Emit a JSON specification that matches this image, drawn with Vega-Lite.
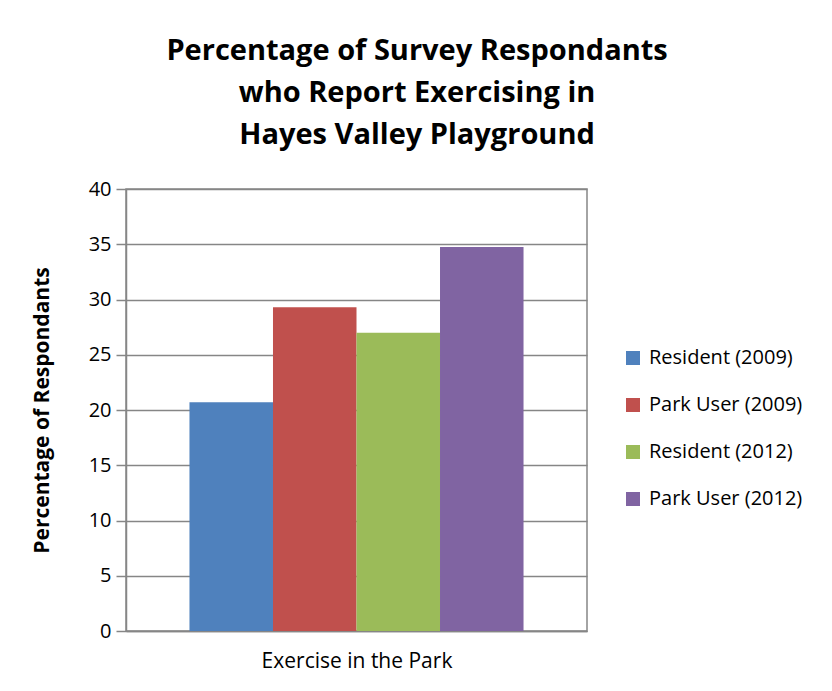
{
  "$schema": "https://vega.github.io/schema/vega-lite/v6.json",
  "width": 461,
  "height": 442,
  "autosize": {"type": "none"},
  "padding": {"left": 126, "top": 189, "right": 245, "bottom": 60},
  "background": "white",
  "title": {
    "text": ["Percentage of Survey Respondants", "who Report Exercising in", "Hayes Valley Playground"],
    "fontSize": 29,
    "font": "Open Sans",
    "fontWeight": "bold",
    "color": "#000000",
    "anchor": "middle",
    "frame": "bounds",
    "lineHeight": 42,
    "offset": 29
  },
  "data": {
    "values": [
      {"series": "Resident (2009)", "value": 20.7},
      {"series": "Park User (2009)", "value": 29.3},
      {"series": "Resident (2012)", "value": 27.0},
      {"series": "Park User (2012)", "value": 34.75}
    ]
  },
  "mark": {"type": "bar"},
  "encoding": {
    "x": {
      "field": "series",
      "type": "nominal",
      "sort": null,
      "scale": {"paddingInner": 0, "paddingOuter": 0.76},
      "axis": {
        "labels": false,
        "ticks": false,
        "title": "Exercise in the Park",
        "titleFontWeight": "normal",
        "titleFontSize": 21,
        "titleFont": "Open Sans",
        "titleColor": "#000000",
        "titlePadding": 19,
        "domainColor": "#868686",
        "domainWidth": 1.5
      }
    },
    "y": {
      "field": "value",
      "type": "quantitative",
      "scale": {"domain": [0, 40]},
      "axis": {
        "values": [0, 5, 10, 15, 20, 25, 30, 35, 40],
        "title": "Percentage of Respondants",
        "titleFont": "Open Sans",
        "titleFontSize": 21,
        "titleFontWeight": "bold",
        "titleColor": "#000000",
        "titlePadding": 36,
        "labelFont": "Open Sans",
        "labelFontSize": 20,
        "labelColor": "#000000",
        "labelPadding": 5,
        "tickSize": 10,
        "tickColor": "#868686",
        "tickWidth": 1.5,
        "domainColor": "#868686",
        "domainWidth": 1.5,
        "gridColor": "#868686",
        "gridWidth": 1.5
      }
    },
    "color": {
      "field": "series",
      "type": "nominal",
      "sort": null,
      "scale": {
        "domain": ["Resident (2009)", "Park User (2009)", "Resident (2012)", "Park User (2012)"],
        "range": ["#4F81BD", "#C0504D", "#9BBB59", "#8064A2"]
      },
      "legend": {
        "title": null,
        "orient": "none",
        "legendX": 497,
        "legendY": 159,
        "symbolType": "square",
        "symbolSize": 196,
        "symbolStrokeWidth": 0,
        "labelFont": "Open Sans",
        "labelFontSize": 20,
        "labelColor": "#000000",
        "rowPadding": 27,
        "labelOffset": 6
      }
    }
  },
  "config": {
    "view": {"stroke": "#868686", "strokeWidth": 1.5}
  }
}
